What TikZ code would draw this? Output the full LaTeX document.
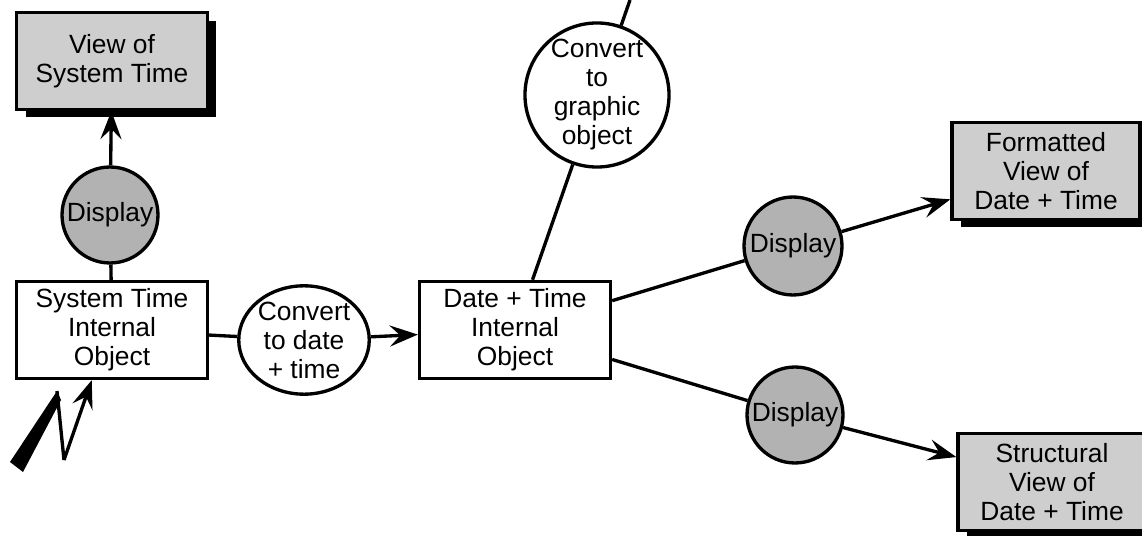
\documentclass[tikz,border=0pt]{standalone}
\usepackage{fontspec}
\setmainfont{Liberation Sans}
\usepackage{tikz}
\usepackage{xcolor}
\usetikzlibrary{positioning}
\usetikzlibrary{arrows.meta}
\usetikzlibrary{shadows}
\usetikzlibrary{shapes.geometric}

\definecolor{viewgray}{HTML}{CECECE}
\definecolor{dispgray}{HTML}{B2B2B2}

\tikzset{
  objbox/.style={draw, line width=1.9pt, fill=white, minimum width=3.82cm, minimum height=1.94cm, align=center, inner sep=0pt},
  viewbox/.style={objbox, fill=viewgray, drop shadow={shadow xshift=0.18cm, shadow yshift=-0.16cm, fill=black, opacity=1}},
  proc/.style={draw, circle, line width=1.9pt, fill=white, inner sep=0pt, align=center},
  disp/.style={proc, fill=dispgray, minimum size=1.96cm},
  flow/.style={line width=1.9pt},
  toarrow/.style={flow, -{Stealth[length=16pt, width=12pt, inset=6pt]}}
}

\begin{document}
\begin{tikzpicture}[x=0.02cm, y=-0.02cm, font=\fontsize{15}{16.5}\selectfont]
\useasboundingbox (0,0) rectangle (1142,536);

\node[viewbox] (sysview) at (112,61) {View of\\System Time};
\node[disp, minimum size=1.92cm] (sysdisp) at (110,215) {Display};
\node[objbox] (sysobj) at (112,330) {System Time\\Internal\\Object};
\node[proc, ellipse, minimum width=2.36cm, minimum height=2.04cm] (todate) at (304,340) {Convert\\to date\\+ time};
\node[objbox] (dateobj) at (515,330) {Date + Time\\Internal\\Object};
\node[proc, minimum size=2.8cm] (tograph) at (597,95) {Convert\\to\\graphic\\object};
\coordinate (graphout) at (630,0);

\node[disp] (fmtdisp) at (793,246) {Display};
\node[disp, minimum size=1.92cm] (strdisp) at (795,415) {Display};
\node[viewbox, minimum width=3.76cm] (fmtview) at (1046,171) {Formatted\\View of\\Date + Time};
\node[viewbox, minimum width=3.76cm] (strview) at (1052,482) {Structural\\View of\\Date + Time};

\draw[flow] (sysobj) -- (sysdisp);
\draw[toarrow] (sysdisp) -- (sysview);
\draw[flow] (sysobj) -- (todate);
\draw[toarrow] (todate) -- (dateobj);
\draw[flow] (dateobj) -- (tograph);
\draw[flow] (tograph) -- (graphout);
\draw[flow] (dateobj) -- (fmtdisp);
\draw[toarrow] (fmtdisp) -- (fmtview);
\draw[flow] (dateobj) -- (strdisp);
\draw[toarrow] (strdisp) -- (strview);

\coordinate (boltpeak) at (57,391);
\coordinate (boltfoot) at (64,460);
\fill (10,462) -- (boltpeak) -- (61,400) -- (23,472) -- cycle;
\draw[flow] (boltpeak) -- (boltfoot);
\draw[toarrow] (boltfoot) -- (sysobj.-112);
\end{tikzpicture}
\end{document}
